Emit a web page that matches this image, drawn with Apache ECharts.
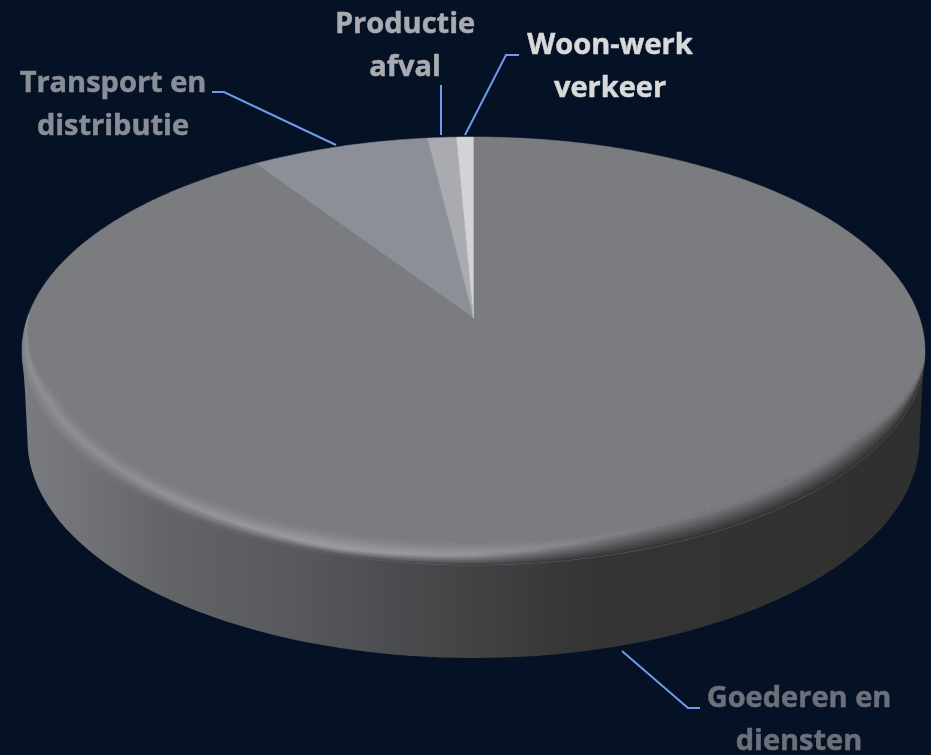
<!DOCTYPE html>
<html><head><meta charset="utf-8">
<style>html,body{margin:0;padding:0;background:#051225}#c{width:931px;height:755px}</style>
<script src="https://cdn.jsdelivr.net/npm/echarts@6/dist/echarts.min.js"></script>
</head><body><div id="c"></div>
<script>
const categories = ["Goederen en diensten", "Transport en distributie", "Productie afval", "Woon-werk verkeer"];
const values = [90.7, 7.4, 1.2, 0.7];
const labelLines = [["Goederen en", "diensten"], ["Transport en", "distributie"], ["Productie", "afval"], ["Woon-werk", "verkeer"]];

const sliceColors = ["#7b7c80", "#8c8f97", "#a9abb0", "#d2d3d5"];
const labelColors = ["#6d7079", "#8a8d95", "#a9abb0", "#d9d9d9"];
const leaderColor = "#6f9be8";
const layout = {
  apex: [473.5, 318], R: 446.1, A: 208.9, k: 0.154,
  top: {cx: 473.5, cy: 351, rx: 451.5, ry: 214},
  low: {cx: 473.5, cy: 440, rx: 446, ry: 218},
  fs: 29, lh: 43,
  labels: [[799, 699], [113, 84], [405, 25], [610, 46]],
  leaders: [
    [[622, 651], [688, 708], [700, 708]],
    [[212, 92], [224, 92], [336, 145]],
    [[441, 85], [441, 135]],
    [[519, 55], [506, 55], [465, 135]]
  ]
};
const total = values.reduce((a, b) => a + b, 0);
const rgb = h => [1, 3, 5].map(i => parseInt(h.substr(i, 2), 16));
const mix = (a, b, t) => a.map((v, i) => v + (b[i] - v) * t);
const css = c => `rgb(${c.map(Math.round).join(',')})`;
const wallStops = [[0, "#7a7c81"], [0.08, "#707175"], [0.16, "#626467"], [0.3, "#57595d"], [0.45, "#48484b"], [0.62, "#353536"], [1, "#2f2f2f"]];
const wallAt = f => {
  for (let i = 1; i < wallStops.length; i++) if (f <= wallStops[i][0]) {
    const [a, ca] = wallStops[i - 1], [b, cb] = wallStops[i];
    return mix(rgb(ca), rgb(cb), (f - a) / (b - a));
  }
  return rgb("#2f2f2f");
};
const hiStops = [[0, .6], [.1, .6], [.35, 1], [.5, .8], [.68, .1], [.75, 0], [1, 0]];
const hiAt = f => {
  for (let i = 1; i < hiStops.length; i++) if (f <= hiStops[i][0]) {
    const [a, ca] = hiStops[i - 1], [b, cb] = hiStops[i];
    return ca + (cb - ca) * (f - a) / (b - a);
  }
  return 0;
};
function ringPoint(ph, inset) {
  const e = layout.top;
  const x = e.rx * Math.cos(ph), y = e.ry * Math.sin(ph);
  const nx = Math.cos(ph) / e.rx, ny = Math.sin(ph) / e.ry, n = Math.hypot(nx, ny);
  return [e.cx + x - inset * nx / n, e.cy + y - inset * ny / n];
}
function sectorPoints(from, to) {
  const [ax, ay] = layout.apex, pts = [[ax, ay]];
  const n = Math.max(4, Math.ceil((to - from) / 0.01));
  for (let i = 0; i <= n; i++) {
    const th = from + (to - from) * i / n, w = 1 + layout.k * Math.cos(th);
    pts.push([ax + layout.R * Math.sin(th) / w, ay - layout.A * Math.cos(th) / w]);
  }
  return pts;
}
function renderWall() {
  const t = layout.top, l = layout.low, pts = [];
  for (let i = 0; i <= 90; i++) { const p = Math.PI * i / 90; pts.push([l.cx + l.rx * Math.cos(p), l.cy + l.ry * Math.sin(p)]); }
  pts.push([t.cx - t.rx + 3, t.cy + 40], [t.cx - t.rx, t.cy], [t.cx + t.rx, t.cy], [t.cx + t.rx - 3, t.cy + 40]);
  return {
    type: 'polygon', shape: {points: pts}, silent: true,
    style: {fill: new echarts.graphic.LinearGradient(0, 0, 1, 0, wallStops.map(s => ({offset: s[0], color: s[1]})))}
  };
}
function renderSlice(params, api) {
  const i = params.dataIndex;
  let before = 0;
  for (let j = 0; j < i; j++) before += values[j];
  const from = before / total * 2 * Math.PI, to = (before + api.value(0)) / total * 2 * Math.PI;
  const kids = [{type: 'polygon', shape: {points: sectorPoints(from, to)}, style: {fill: sliceColors[i], stroke: sliceColors[i], lineWidth: 0.5}}];
  return {type: 'group', children: kids};
}
function renderBevel() {
  const kids = [], N = 24, D = 22, t = layout.top;
  const sf = rgb(sliceColors[0]), hi = rgb("#9b9da3");
  const a0 = 3 * Math.PI / 180, a1 = 190 * Math.PI / 180, ramp = 26 * Math.PI / 180;
  for (let b = 0; b < N; b++) {
    const u = b / N, pts = [], inner = [];
    for (let q = 0; q <= 120; q++) {
      const ph = a0 + (a1 - a0) * q / 120;
      const w = Math.min(1, Math.min(ph - a0, a1 - ph) / ramp);
      pts.push(ringPoint(ph, D * w * u));
      inner.push(ringPoint(ph, D * w));
    }
    const stops = [];
    for (let s = 0; s <= 20; s++) {
      const f = s / 20, H = hiAt(f), h = mix(sf, hi, H), wl = wallAt(f);
      const p = Math.min(0.95, 0.3 + 0.7 * (1 - H));
      const c = u < p ? mix(wl, h, u / p) : mix(h, sf, (u - p) / (1 - p));
      stops.push({offset: f, color: css(c)});
    }
    kids.push({
      type: 'polygon', shape: {points: pts.concat(inner.reverse())}, silent: true,
      style: {fill: new echarts.graphic.LinearGradient(t.cx - t.rx, 0, t.cx + t.rx, 0, stops, true)}
    });
  }
  return {type: 'group', children: kids};
}
function renderLabel(params) {
  const i = params.dataIndex, [x, y] = layout.labels[i];
  const kids = [{
    type: 'polyline', shape: {points: layout.leaders[i]}, silent: true,
    style: {stroke: leaderColor, lineWidth: 2, fill: null}
  }];
  labelLines[i].forEach((s, n) => kids.push({
    type: 'text', silent: true,
    style: {text: s, x, y: y + n * layout.lh, align: 'center', verticalAlign: 'middle',
      fill: labelColors[i], stroke: labelColors[i], lineWidth: 0.5,
      font: `bold ${layout.fs}px "Open Sans", sans-serif`}
  }));
  return {type: 'group', children: kids};
}
const chart = echarts.init(document.getElementById('c'), null, {renderer: 'canvas'});
chart.setOption({
  animation: false,
  backgroundColor: "#051225",
  tooltip: {show: false},
  series: [
    {type: 'custom', coordinateSystem: 'none', z: 1, silent: true, data: [0], renderItem: renderWall},
    {type: 'custom', coordinateSystem: 'none', z: 2, silent: true, name: 'Aandeel',
      data: categories.map((c, i) => ({name: c, value: [values[i]]})), encode: {value: 0}, renderItem: renderSlice},
    {type: 'custom', coordinateSystem: 'none', z: 3, silent: true, data: [0], renderItem: renderBevel},
    {type: 'custom', coordinateSystem: 'none', z: 4, silent: true,
      data: categories.map((c, i) => ({name: c, value: [values[i]]})), renderItem: renderLabel}
  ]
});
</script></body></html>
